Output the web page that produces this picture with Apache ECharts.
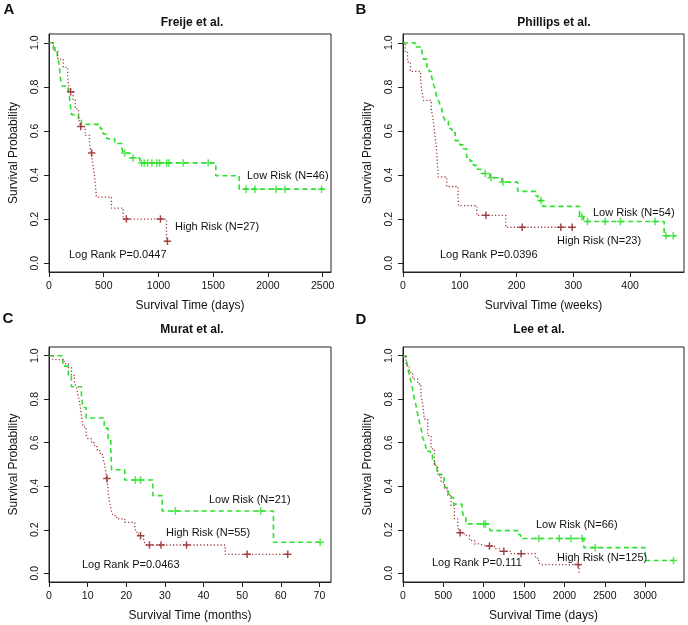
<!DOCTYPE html>
<html>
<head>
<meta charset="utf-8">
<script src="https://cdn.jsdelivr.net/npm/echarts@6/dist/echarts.min.js"></script>
<style>
  * { margin: 0; padding: 0; }
  body { background: #fff; }
  #main { width: 688px; height: 625px; }
</style>
</head>
<body>
<div id="main"></div>
<script>
// ---- data ----
// A: Freije et al. (days)
var aLowT  = [0, 35, 55, 75, 90, 95, 98, 100, 110, 120, 175, 185, 190, 195, 200, 205, 270, 296, 470, 494, 527, 601, 665, 680, 740, 830, 1524, 1737, 2520];
var aLowS  = [1, 0.978, 0.957, 0.935, 0.913, 0.891, 0.870, 0.848, 0.826, 0.804, 0.783, 0.761, 0.739, 0.717, 0.696, 0.674, 0.652, 0.630, 0.609, 0.587, 0.565, 0.543, 0.522, 0.500, 0.477, 0.455, 0.397, 0.336, 0.336];
var aLowCT = [692, 768, 845, 870, 900, 940, 985, 1010, 1075, 1095, 1225, 1454, 1800, 1881, 2075, 2155, 2490];
var aLowCS = [0.5, 0.477, 0.455, 0.455, 0.455, 0.455, 0.455, 0.455, 0.455, 0.455, 0.455, 0.455, 0.336, 0.336, 0.336, 0.336, 0.336];
var aHighT  = [0, 40, 80, 130, 170, 185, 220, 240, 270, 285, 330, 370, 385, 400, 415, 425, 433, 570, 677, 1073, 1082];
var aHighS  = [1, 0.963, 0.926, 0.889, 0.852, 0.778, 0.741, 0.700, 0.660, 0.620, 0.580, 0.540, 0.500, 0.450, 0.400, 0.350, 0.300, 0.250, 0.200, 0.100, 0.100];
var aHighCT = [198, 290, 390, 707, 1018, 1082];
var aHighCS = [0.778, 0.620, 0.500, 0.200, 0.200, 0.100];

// B: Phillips et al. (weeks)
var bLowT  = [0, 21, 33, 36, 42, 46, 50, 53, 56, 59, 62, 65, 68, 71, 74, 80, 86, 92, 100, 106, 112, 118, 124, 131, 138, 153, 174, 202, 234, 238, 246, 311, 318, 460, 480];
var bLowS  = [1, 0.981, 0.963, 0.926, 0.889, 0.870, 0.852, 0.815, 0.796, 0.759, 0.741, 0.722, 0.704, 0.667, 0.648, 0.611, 0.593, 0.556, 0.537, 0.519, 0.481, 0.463, 0.444, 0.426, 0.407, 0.388, 0.368, 0.326, 0.305, 0.284, 0.258, 0.212, 0.189, 0.124, 0.124];
var bLowCT = [145, 155, 176, 243, 315, 325, 356, 383, 444, 463, 476];
var bLowCS = [0.407, 0.388, 0.368, 0.284, 0.212, 0.189, 0.189, 0.189, 0.189, 0.124, 0.124];
var bHighT  = [0, 4, 8, 13, 31, 33, 36, 50, 53, 55, 57, 59, 60, 61, 62, 77, 97, 98, 130, 181, 300];
var bHighS  = [1, 0.957, 0.913, 0.870, 0.826, 0.783, 0.739, 0.696, 0.652, 0.609, 0.565, 0.522, 0.478, 0.435, 0.391, 0.348, 0.304, 0.261, 0.217, 0.163, 0.163];
var bHighCT = [146, 210, 278, 298];
var bHighCS = [0.217, 0.163, 0.163, 0.163];

// C: Murat et al. (months)
var cLowT  = [0, 3.6, 5.0, 5.8, 8.4, 8.8, 9.6, 14.3, 15.3, 16.0, 16.1, 16.2, 19.6, 26.9, 29.3, 58.1, 70.6];
var cLowS  = [1, 0.952, 0.905, 0.857, 0.810, 0.762, 0.714, 0.667, 0.619, 0.571, 0.524, 0.476, 0.429, 0.357, 0.286, 0.143, 0.143];
var cLowCT = [22.3, 23.7, 32.7, 54.8, 70.2];
var cLowCS = [0.429, 0.429, 0.286, 0.286, 0.143];
var cHighT  = [0, 1.0, 4.0, 5.0, 5.8, 6.6, 7.1, 7.5, 7.95, 8.4, 8.8, 9.6, 10.1, 11.0, 11.8, 12.5, 13.3, 14.0, 14.5, 14.9, 15.2, 15.4, 15.7, 16.1, 16.6, 17.5, 19.6, 22.2, 22.6, 23.2, 24.5, 25.0, 45.6, 61.8];
var cHighS  = [1, 0.982, 0.964, 0.945, 0.909, 0.873, 0.855, 0.818, 0.782, 0.727, 0.673, 0.636, 0.618, 0.600, 0.582, 0.564, 0.545, 0.527, 0.491, 0.436, 0.400, 0.360, 0.327, 0.290, 0.265, 0.250, 0.234, 0.211, 0.188, 0.173, 0.152, 0.130, 0.087, 0.087];
var cHighCT = [15.0, 23.7, 26.0, 29.0, 35.6, 51.3, 61.8];
var cHighCS = [0.436, 0.173, 0.130, 0.130, 0.130, 0.087, 0.087];

// D: Lee et al. (days)
var dLowT  = [0, 35, 55, 70, 90, 110, 125, 140, 160, 175, 195, 210, 230, 245, 265, 285, 310, 340, 365, 390, 420, 450, 480, 510, 525, 560, 600, 628, 731, 755, 780, 1060, 1083, 1420, 1455, 2240, 3000, 3350];
var dLowS  = [1, 0.985, 0.955, 0.924, 0.894, 0.864, 0.833, 0.803, 0.773, 0.742, 0.712, 0.682, 0.652, 0.621, 0.606, 0.576, 0.561, 0.545, 0.515, 0.500, 0.470, 0.455, 0.439, 0.409, 0.394, 0.364, 0.348, 0.318, 0.288, 0.258, 0.227, 0.212, 0.196, 0.178, 0.160, 0.118, 0.059, 0.059];
var dLowCT = [1000, 1021, 1682, 1935, 2080, 2220, 2380, 3350];
var dLowCS = [0.227, 0.227, 0.160, 0.160, 0.160, 0.160, 0.118, 0.059];
var dHighT  = [0, 37, 78, 120, 182, 223, 244, 264, 306, 347, 389, 430, 471, 513, 554, 595, 637, 678, 700, 761, 823, 885, 947, 1000, 1133, 1200, 1339, 1640, 1680, 1700, 2180];
var dHighS  = [1, 0.954, 0.923, 0.893, 0.870, 0.816, 0.778, 0.709, 0.633, 0.572, 0.495, 0.449, 0.418, 0.388, 0.357, 0.311, 0.250, 0.212, 0.186, 0.174, 0.151, 0.135, 0.128, 0.125, 0.113, 0.101, 0.090, 0.070, 0.052, 0.040, 0];
var dHighCT = [707, 1071, 1249, 1463, 2169];
var dHighCS = [0.186, 0.125, 0.101, 0.090, 0.040];

var titles  = ['Freije et al.', 'Phillips et al.', 'Murat et al.', 'Lee et al.'];
var letters = ['A', 'B', 'C', 'D'];
var xNames  = ['Survival Time (days)', 'Survival Time (weeks)', 'Survival Time (months)', 'Survival Time (days)'];
var xMax    = [2576, 495, 73, 3480];
var xTicks  = [[0, 500, 1000, 1500, 2000, 2500], [0, 100, 200, 300, 400], [0, 10, 20, 30, 40, 50, 60, 70], [0, 500, 1000, 1500, 2000, 2500, 3000]];
var yTicks  = [0, 0.2, 0.4, 0.6, 0.8, 1.0];
var lowLabels  = ['Low Risk (N=46)', 'Low Risk (N=54)', 'Low Risk (N=21)', 'Low Risk (N=66)'];
var highLabels = ['High Risk (N=27)', 'High Risk (N=23)', 'High Risk (N=55)', 'High Risk (N=125)'];
var pLabels    = ['Log Rank P=0.0447', 'Log Rank P=0.0396', 'Log Rank P=0.0463', 'Log Rank P=0.111'];

var panels = [
    {lowT: aLowT, lowS: aLowS, lowCT: aLowCT, lowCS: aLowCS, highT: aHighT, highS: aHighS, highCT: aHighCT, highCS: aHighCS},
    {lowT: bLowT, lowS: bLowS, lowCT: bLowCT, lowCS: bLowCS, highT: bHighT, highS: bHighS, highCT: bHighCT, highCS: bHighCS},
    {lowT: cLowT, lowS: cLowS, lowCT: cLowCT, lowCS: cLowCS, highT: cHighT, highS: cHighS, highCT: cHighCT, highCS: cHighCS},
    {lowT: dLowT, lowS: dLowS, lowCT: dLowCT, lowCS: dLowCS, highT: dHighT, highS: dHighS, highCT: dHighCT, highCS: dHighCS}
];

// ---- layout ----
var grids = [
    {left: 49, top: 34, width: 282, height: 238},
    {left: 403, top: 34, width: 281, height: 238},
    {left: 49, top: 347, width: 282, height: 235},
    {left: 403, top: 347, width: 281, height: 235}
];
var titlePos  = [[192, 23], [554, 23], [192, 330], [539, 330]];
var letterPos = [[9, 10], [361, 10], [8, 319], [361, 320]];
var lowPos  = [[247, 176], [593, 213], [209, 500], [536, 525]];
var highPos = [[175, 227], [557, 241], [166, 533], [557, 558]];
var pPos    = [[69, 255], [440, 255], [82, 565], [432, 563]];

var GREEN = '#2ee02e';
var RED = '#a33a3a';
var RED_MARK = '#8e1b1b';
var FONT = 'Liberation Sans, Arial, sans-serif';
var PLUS = 'path://M4,0H6V4H10V6H6V10H4V6H0V4H4Z';

function pairs(t, s) {
    return t.map(function (x, i) { return [x, s[i]]; });
}

var option = {
    animation: false,
    backgroundColor: '#fff',
    textStyle: {fontFamily: FONT},
    grid: [],
    xAxis: [],
    yAxis: [],
    series: [],
    graphic: []
};

panels.forEach(function (p, k) {
    var g = grids[k];
    option.grid.push({left: g.left, top: g.top, width: g.width, height: g.height,
        show: true, borderColor: '#222', borderWidth: 1, backgroundColor: 'transparent'});
    option.xAxis.push({
        type: 'value', gridIndex: k, min: 0, max: xMax[k],
        name: xNames[k], nameLocation: 'middle', nameGap: 28,
        nameTextStyle: {fontSize: 12, color: '#111', fontFamily: FONT},
        axisLine: {show: true, onZero: false, lineStyle: {color: '#222'}},
        axisTick: {show: true, length: 5, customValues: xTicks[k], lineStyle: {color: '#222'}},
        axisLabel: {customValues: xTicks[k], fontSize: 10.5, color: '#111', margin: 9, fontFamily: FONT,
            formatter: function (v) { return String(v); }},
        splitLine: {show: false}
    });
    option.yAxis.push({
        type: 'value', gridIndex: k, min: -0.04, max: 1.04,
        name: 'Survival Probability', nameLocation: 'middle', nameGap: 29,
        nameTextStyle: {fontSize: 12, color: '#111', fontFamily: FONT},
        axisLine: {show: true, onZero: false, lineStyle: {color: '#222'}},
        axisTick: {show: true, length: 5, customValues: yTicks, lineStyle: {color: '#222'}},
        axisLabel: {customValues: yTicks, rotate: 90, fontSize: 10.5, color: '#111', margin: 8,
            fontFamily: FONT, formatter: function (v) { return v.toFixed(1); }},
        splitLine: {show: false}
    });
    option.series.push({
        type: 'line', step: 'end', xAxisIndex: k, yAxisIndex: k, showSymbol: false,
        data: pairs(p.lowT, p.lowS), lineStyle: {color: GREEN, width: 1.6, type: [5, 3.5]}, z: 3
    });
    option.series.push({
        type: 'line', step: 'end', xAxisIndex: k, yAxisIndex: k, showSymbol: false,
        data: pairs(p.highT, p.highS), lineStyle: {color: RED, width: 1.3, type: [1.2, 2.2]}, z: 3
    });
    option.series.push({
        type: 'scatter', xAxisIndex: k, yAxisIndex: k, symbol: PLUS, symbolSize: 7.5,
        data: pairs(p.lowCT, p.lowCS), itemStyle: {color: GREEN}, z: 4
    });
    option.series.push({
        type: 'scatter', xAxisIndex: k, yAxisIndex: k, symbol: PLUS, symbolSize: 7.5,
        data: pairs(p.highCT, p.highCS), itemStyle: {color: RED_MARK}, z: 4
    });

    var txt = function (s, pos, extra) {
        var st = {text: s, fill: '#111', font: '11px ' + FONT, textVerticalAlign: 'middle', textAlign: 'left'};
        for (var key in extra) st[key] = extra[key];
        return {type: 'text', x: pos[0], y: pos[1], style: st, z: 10};
    };
    option.graphic.push(txt(titles[k], titlePos[k], {font: 'bold 12px ' + FONT, textAlign: 'center'}));
    option.graphic.push(txt(letters[k], letterPos[k], {font: 'bold 15px ' + FONT, textAlign: 'center'}));
    option.graphic.push(txt(lowLabels[k], lowPos[k]));
    option.graphic.push(txt(highLabels[k], highPos[k]));
    option.graphic.push(txt(pLabels[k], pPos[k]));
});

var myChart = echarts.init(document.getElementById('main'));
myChart.setOption(option);
</script>
</body>
</html>
